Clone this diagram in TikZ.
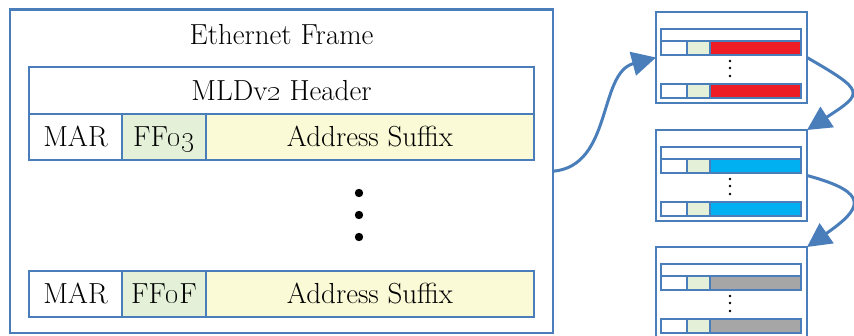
\documentclass[tikz,border=0pt]{standalone}
\usetikzlibrary{arrows.meta,positioning}
\definecolor{tblue}{HTML}{4A7EBB}
\definecolor{cellgreen}{HTML}{E4F0D8}
\definecolor{cellyellow}{HTML}{FAFAD6}
\definecolor{sfxred}{HTML}{EE1C24}
\definecolor{sfxcyan}{HTML}{00B0F0}
\definecolor{sfxgray}{HTML}{A6A6A6}
\tikzset{>={Triangle[length=24pt,width=24pt]}}

\begin{document}
\begin{tikzpicture}[x=1pt,y=-1pt,font=\fontsize{29}{33}\selectfont,
    frm/.style={draw=tblue,line width=2.8pt,inner sep=0pt,outer sep=0pt},
    cell/.style={frm,minimum height=46pt,text height=19.8pt,text depth=0pt},
    mini/.style={draw=tblue,line width=2.4pt},
    link/.style={draw=tblue,line width=3pt,->}]
  \useasboundingbox (0,0) rectangle (854,335);

  % The ethernet frame with its MLDv2 header
  \node[frm,minimum width=543pt,minimum height=323.5pt] (frame) at (281.5,171.25) {};
  \node[text height=19.8pt,text depth=0pt] (title) at (281.5,35) {Ethernet Frame};
  \node[cell,minimum width=505pt,minimum height=47pt,anchor=north west] (hdr) at (29,67) {MLDv\oldstylenums{2} Header};

  % First and last address records
  \node[cell,minimum width=93pt,anchor=north west] (mar1) at (hdr.south west) {MAR};
  \node[cell,fill=cellgreen,minimum width=84pt,right=0pt of mar1] (ff1) {FF\oldstylenums{03}};
  \node[cell,fill=cellyellow,minimum width=328pt,right=0pt of ff1] (sfx1) {Address Suffix};
  \foreach \dy in {193,215,237} \fill (359,\dy) circle (4.2pt);
  \node[cell,minimum width=93pt,anchor=north west] (mar2) at (29,271) {MAR};
  \node[cell,fill=cellgreen,minimum width=84pt,right=0pt of mar2] (ff2) {FF\oldstylenums{0}F};
  \node[cell,fill=cellyellow,minimum width=328pt,right=0pt of ff2] (sfx2) {Address Suffix};

  % Small copies of the frame, one per suffix colour
  \foreach \ty/\col [count=\i] in {12/sfxred,130/sfxcyan,247/sfxgray} {
    \node[frm,minimum width=151pt,minimum height=91pt,anchor=north west] (tbl\i) at (656,\ty) {};
    \draw[mini,fill=white] (661,\ty+17) rectangle (801,\ty+29);
    \foreach \ry in {29,72} {
      \draw[mini,fill=white] (661,\ty+\ry) rectangle (687,\ty+\ry+14);
      \draw[mini,fill=cellgreen] (687,\ty+\ry) rectangle (710,\ty+\ry+14);
      \draw[mini,fill=\col] (710,\ty+\ry) rectangle (801,\ty+\ry+14);
    }
    \foreach \dy in {49,56,64} \fill (730,\ty+\dy) circle (1.4pt);
  }

  % Links between the frames
  \draw[link] (frame.east) to[out=5,in=195] (tbl1.west);
  \draw[link] (tbl1.east) to[out=-30,in=33,looseness=2.4] (tbl2.north east);
  \draw[link] (tbl2.east) to[out=-15,in=35,looseness=2.4] (tbl3.north east);
\end{tikzpicture}
\end{document}
